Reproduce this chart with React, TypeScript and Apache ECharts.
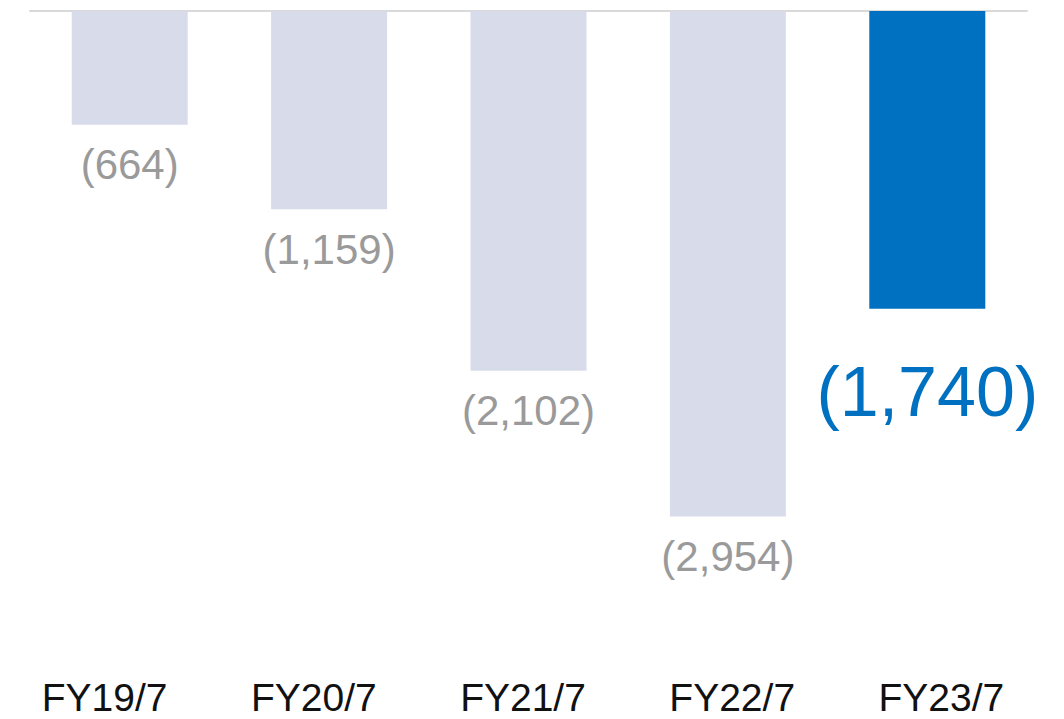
import React, { useEffect, useRef } from "react";
import * as echarts from "echarts";

const categories = ["FY19/7", "FY20/7", "FY21/7", "FY22/7", "FY23/7"];
const values = [-664, -1159, -2102, -2954, -1740];
const valueLabels = ["(664)", "(1,159)", "(2,102)", "(2,954)", "(1,740)"];

const GRAY_BAR = "#d8dcea";
const BLUE = "#0070c0";
const FONT = "'Liberation Sans', Helvetica, Arial, sans-serif";

export default function App() {
  const ref = useRef<HTMLDivElement>(null);
  useEffect(() => {
    if (!ref.current) return;
    const chart = echarts.init(ref.current, undefined, { renderer: "svg" });
    const last = values.length - 1;
    chart.setOption({
      animation: false,
      backgroundColor: "#ffffff",
      grid: [
        { left: 30, right: 37, top: 11, bottom: 109, containLabel: false },
        { left: -2, right: 18, top: 11, bottom: 109, containLabel: false },
      ],
      xAxis: [
        {
          type: "category",
          gridIndex: 0,
          data: categories,
          position: "top",
          axisLine: { show: true, onZero: false, lineStyle: { color: "#d9d9d9", width: 2 } },
          axisTick: { show: false },
          axisLabel: { show: false },
        },
        {
          type: "category",
          gridIndex: 1,
          data: categories,
          position: "bottom",
          axisLine: { show: false },
          axisTick: { show: false },
          axisLabel: {
            show: true,
            margin: 67,
            verticalAlign: "top",
            lineHeight: 40,
            color: "#111111",
            fontSize: 39,
            fontFamily: FONT,
          },
        },
      ],
      yAxis: [
        { type: "value", gridIndex: 0, min: -3500, max: 0, show: false, splitLine: { show: false } },
        { type: "value", gridIndex: 1, min: -3500, max: 0, show: false, splitLine: { show: false } },
      ],
      series: [
        {
          type: "bar",
          xAxisIndex: 0,
          yAxisIndex: 0,
          barWidth: 116,
          data: values.map((v, i) => ({
            value: v,
            itemStyle: { color: i === last ? BLUE : GRAY_BAR },
            label: {
              show: true,
              position: "bottom",
              distance: i === last ? 48 : 19,
              formatter: valueLabels[i],
              color: i === last ? BLUE : "#9a9a9a",
              fontSize: i === last ? 70 : 42,
              fontFamily: FONT,
            },
          })),
        },
      ],
    });
    return () => chart.dispose();
  }, []);
  return (
    <div
      ref={ref}
      style={{ position: "fixed", left: 0, top: 0, width: 1064, height: 719 }}
    />
  );
}
